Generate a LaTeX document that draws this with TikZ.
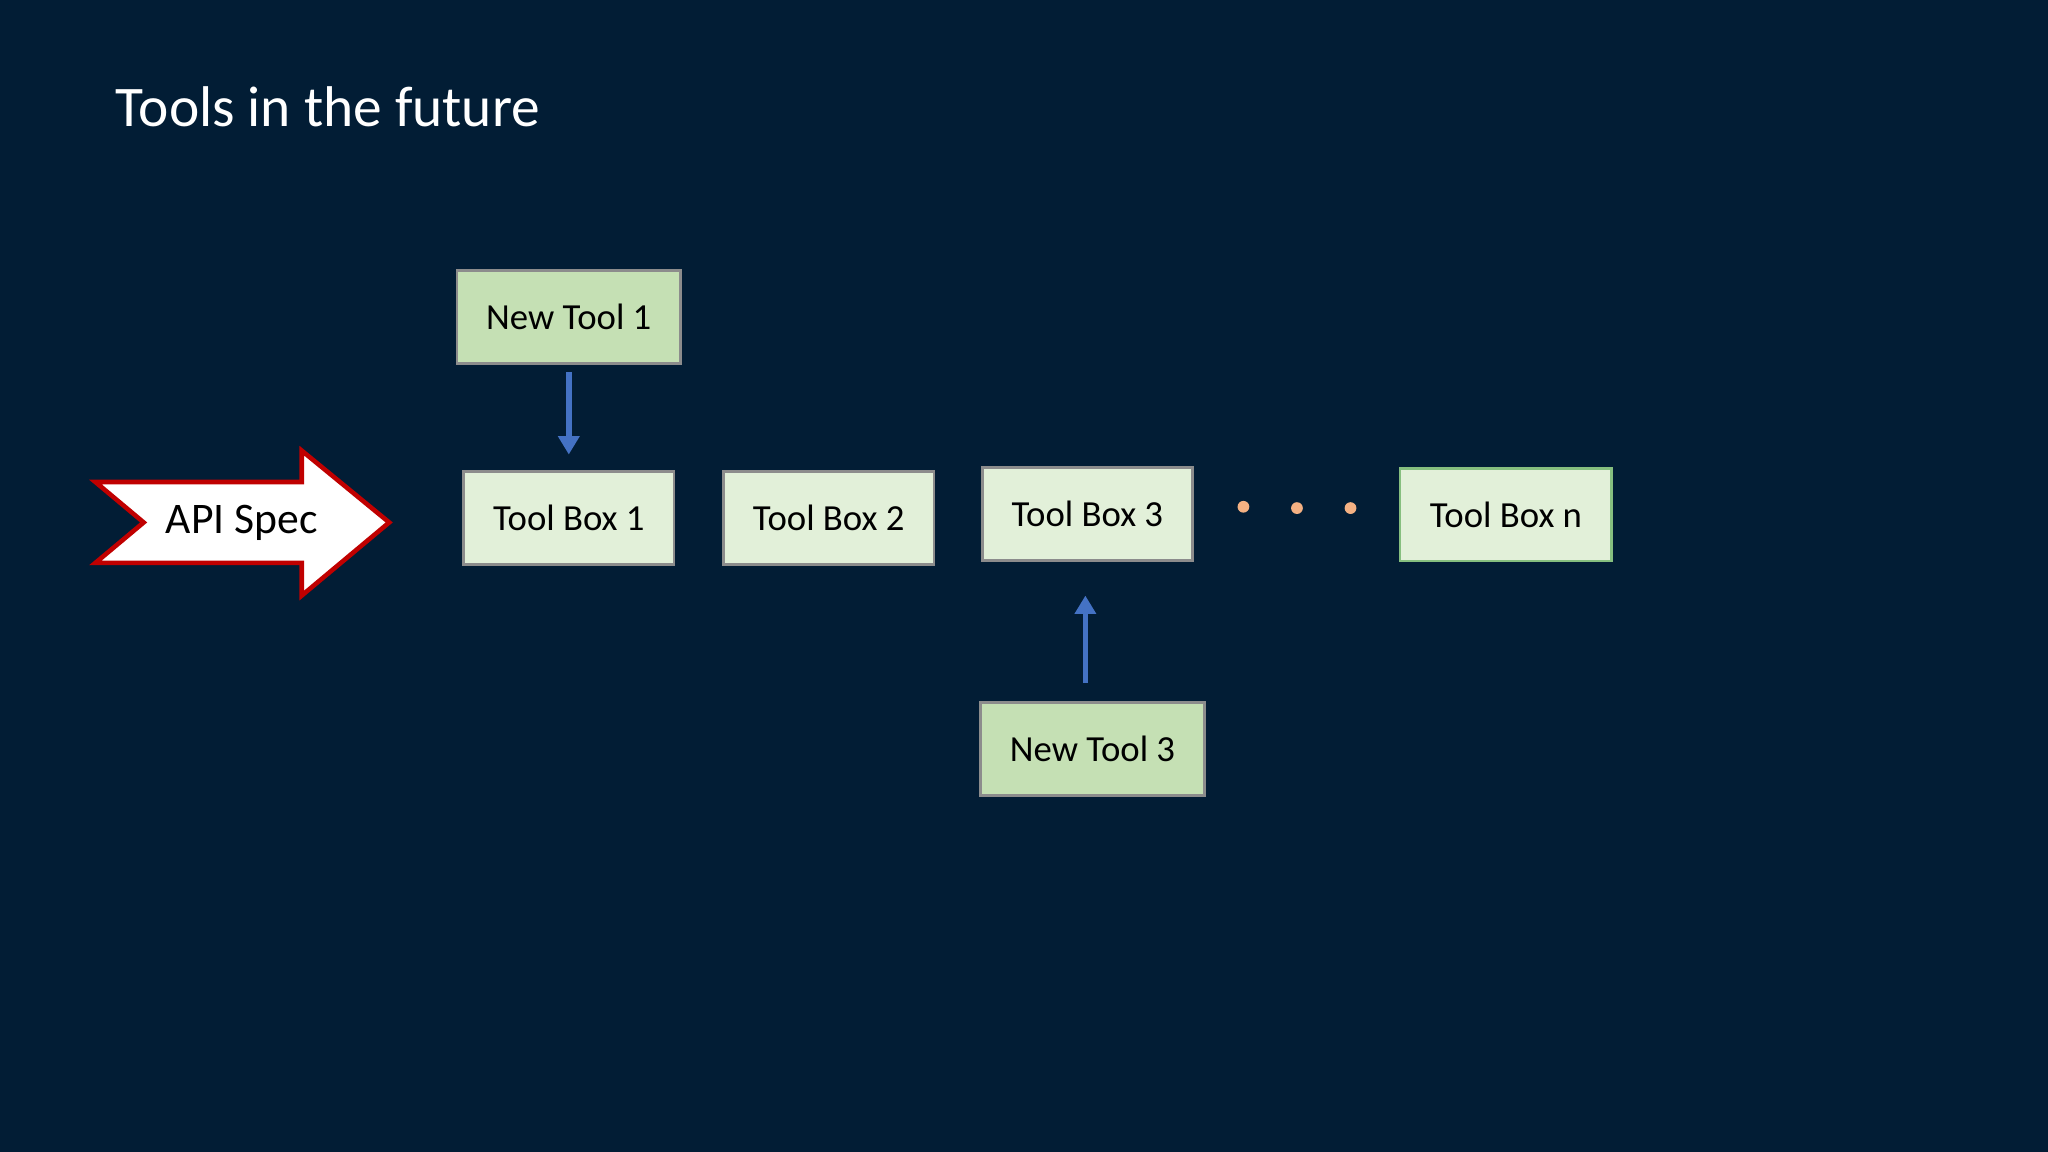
\documentclass[tikz,border=0pt]{standalone}
\usepackage{fontspec}
\setmainfont{Carlito}
\usetikzlibrary{arrows.meta}
\definecolor{bg}{HTML}{021D35}
\definecolor{newfill}{HTML}{C5E0B4}
\definecolor{boxfill}{HTML}{E2F0D9}
\definecolor{boxline}{HTML}{8C8C8C}
\definecolor{arrblue}{HTML}{4472C4}
\definecolor{dotc}{HTML}{F4B183}
\definecolor{apired}{HTML}{C00000}
\tikzset{
  newtool/.style={draw=boxline, line width=0.6pt, fill=newfill, minimum width=1.71cm, minimum height=0.71cm, font=\fontsize{8}{9}\selectfont, inner sep=0pt},
  toolbox/.style={draw=boxline, line width=0.6pt, fill=boxfill, minimum width=1.61cm, minimum height=0.71cm, font=\fontsize{8}{9}\selectfont, inner sep=0pt},
  conn/.style={draw=arrblue, line width=1.2pt, -{Triangle[length=4pt,width=4.5pt]}},
  dotst/.style={circle, fill=dotc, minimum size=0.09cm, inner sep=0pt}
}
\begin{document}
\begin{tikzpicture}[x=0.01cm,y=-0.01cm]
\fill[bg] (0,0) rectangle (1568,882);
\useasboundingbox (0,0) rectangle (1568,882);
\node[anchor=west, text=white, font=\fontsize{12.5}{14}\selectfont, inner sep=0pt] (title) at (88,82) {Tools in the future};
\node[newtool] (nt1) at (435.5,242.5) {New Tool 1};
\node[toolbox] (tb1) at (435.5,396.5) {Tool Box 1};
\node[toolbox] (tb2) at (634.5,396.5) {Tool Box 2};
\node[toolbox] (tb3) at (832.5,393.5) {Tool Box 3};
\node[toolbox, draw=newfill!70!green!60!gray, minimum width=1.62cm] (tbn) at (1153,394) {Tool Box n};
\node[newtool] (nt3) at (836.5,573.5) {New Tool 3};
\coordinate (a1s) at (435.5,285);
\coordinate (a1e) at (435.5,348);
\draw[conn] (a1s) -- (a1e);
\coordinate (a3s) at (831,523);
\coordinate (a3e) at (831,456);
\draw[conn] (a3s) -- (a3e);
\node[dotst] (d1) at (952,388) {};
\node[dotst] (d2) at (993,389) {};
\node[dotst] (d3) at (1034,389) {};
\draw[apired, line width=1pt, fill=white] (73,369) -- (231,369) -- (231,345) -- (298,400) -- (231,456) -- (231,431) -- (73,431) -- (110,400) -- cycle;
\node[font=\fontsize{9.5}{11}\selectfont, inner sep=0pt] (api) at (185,400) {API Spec};
\end{tikzpicture}
\end{document}
